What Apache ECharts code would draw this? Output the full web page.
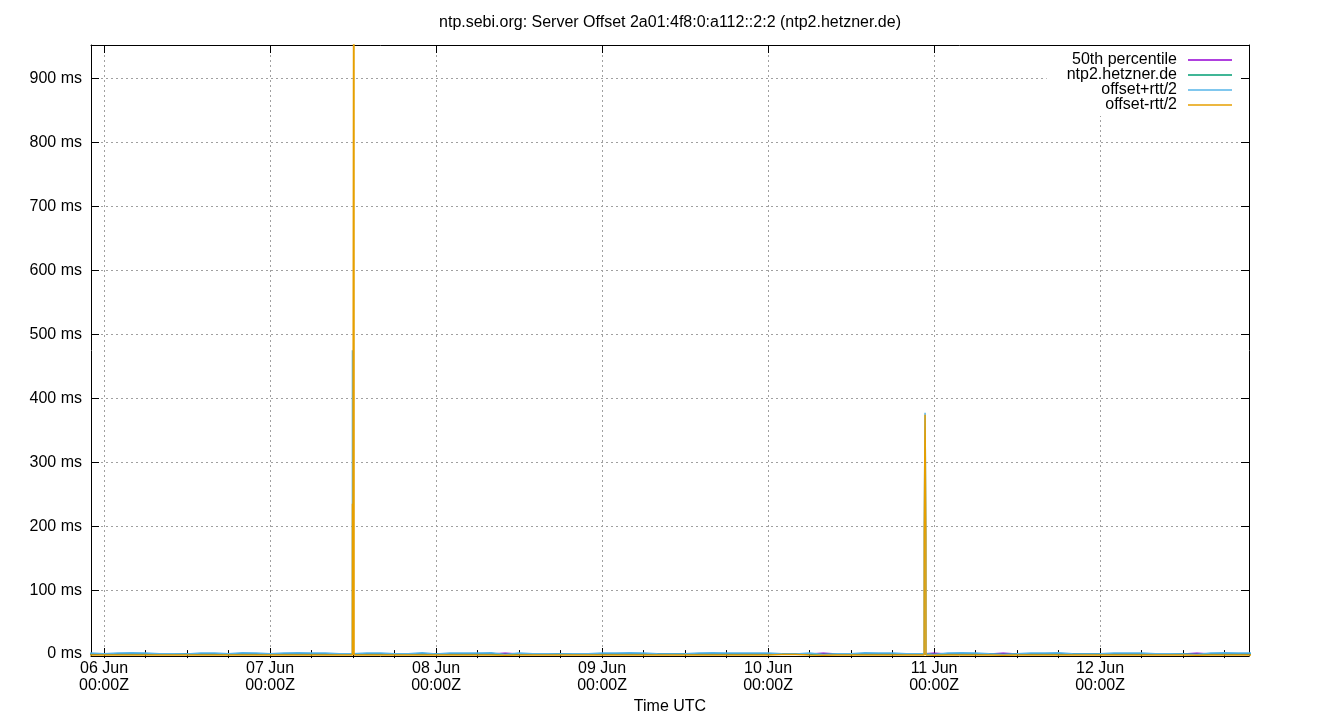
<!DOCTYPE html>
<html><head><meta charset="utf-8">
<script src="https://cdn.jsdelivr.net/npm/echarts@6/dist/echarts.min.js"></script>
<style>html,body{margin:0;padding:0;background:#fff}#c{width:1340px;height:720px}</style>
</head><body><div id="c"></div>
<script>
const titleText = 'ntp.sebi.org: Server Offset 2a01:4f8:0:a112::2:2 (ntp2.hetzner.de)';
const seriesNames = ['50th percentile', 'ntp2.hetzner.de', 'offset+rtt/2', 'offset-rtt/2'];
const seriesColors = ['#9400d3', '#009e73', '#56b4e9', '#e69f00'];
const xAxisName = 'Time UTC';

// regular samples, every 2 hours from baseStart
const baseStart = '2025-06-05T22:00:00Z';
const baseStepHours = 2;

const pct50 = [
  0.3,0.3,0.2,0.3,0.3,0.3,0.2,0.3,0.3,0.3,
  0.3,0.3,0.3,0.2,0.3,0.3,0.3,0.3,0.3,0.2,
  0.3,0.3,0.3,0.3,0.2,0.3,0.3,0.3,0.3,0.3,
  1.2,0.3,0.3,0.3,0.2,0.3,0.3,0.3,0.3,0.3,
  0.3,0.2,0.3,0.3,0.3,0.3,0.3,0.2,0.3,0.3,
  0.3,0.3,0.3,1.2,0.3,0.3,0.2,0.3,0.3,0.3,
  0.3,1.2,0.3,0.3,0.3,0.3,1.2,0.3,0.3,0.2,
  0.3,0.3,0.3,0.3,0.2,0.3,0.3,0.3,0.3,0.3,
  1.2,0.3,0.3,0.3,0.3
];
const offset = [
  0.2,0.0,0.2,0.3,0.2,0.0,0.1,0.0,0.2,0.2,
  0.0,0.3,0.2,0.0,0.2,0.2,0.3,0.2,0.0,0.1,
  0.2,0.2,0.0,0.0,0.3,0.0,0.2,0.2,0.3,0.2,
  -0.7,0.2,0.0,0.1,0.0,0.0,0.1,0.2,0.2,0.3,
  0.2,0.0,0.0,0.1,0.2,0.3,0.2,0.2,0.2,0.2,
  0.0,0.0,0.2,-0.7,0.0,0.1,0.3,0.2,0.2,0.0,
  0.0,-0.7,0.2,0.3,0.2,0.0,-0.7,0.0,0.2,0.2,
  0.3,0.0,0.0,0.1,0.2,0.2,0.3,0.0,0.1,0.0,
  -0.7,0.2,0.3,0.2,0.2
];
const offsetPlus = [
  1.8,0.4,1.7,1.9,1.8,0.5,0.4,0.3,1.8,1.7,
  0.4,1.9,1.8,0.5,1.8,1.9,1.7,1.8,0.4,0.4,
  1.8,1.7,0.5,0.4,1.9,0.3,1.8,1.7,1.8,1.9,
  -0.6,1.8,0.4,0.5,0.3,0.4,0.5,1.8,1.7,1.9,
  1.8,0.4,0.3,0.5,1.8,1.9,1.7,1.8,1.8,1.7,
  0.4,0.3,1.8,-0.6,0.4,0.5,1.9,1.8,1.7,0.4,
  0.4,-0.6,1.8,1.9,1.7,0.5,-0.6,0.4,1.8,1.7,
  1.9,0.4,0.3,0.5,1.8,1.7,1.8,0.4,0.5,0.3,
  -0.6,1.8,1.9,1.7,1.8
];
const offsetMinus = [
  -1.4,-1.4,-1.3,-1.4,-1.5,-1.4,-1.4,-1.3,-1.4,-1.4,
  -1.4,-1.3,-1.4,-1.4,-1.5,-1.4,-1.4,-1.3,-1.4,-1.4,
  -1.4,-1.4,-1.3,-1.4,-1.4,-1.5,-1.4,-1.4,-1.3,-1.4,
  -1.7,-1.4,-1.4,-1.3,-1.4,-1.4,-1.4,-1.5,-1.4,-1.4,
  -1.3,-1.4,-1.4,-1.4,-1.5,-1.4,-1.4,-1.3,-1.4,-1.4,
  -0.8,-0.8,-1.4,-1.7,-1.4,-1.3,-1.4,-1.4,-1.5,-1.4,
  -1.4,-1.7,-1.4,-1.3,-1.4,-1.4,-1.7,-1.4,-1.4,-1.5,
  -1.4,-1.4,-1.3,-1.4,-1.4,-1.4,-1.5,-1.4,-1.4,-1.3,
  -1.7,-1.4,-1.4,-1.4,-1.4
];

// extra samples around the two spikes (null = no sample for that series)
const spikeTimes = [
  '2025-06-07T11:54:00Z','2025-06-07T11:55:00Z','2025-06-07T11:57:00Z','2025-06-07T11:58:00Z',
  '2025-06-07T12:07:00Z','2025-06-07T12:08:00Z','2025-06-07T12:09:00Z',
  '2025-06-10T22:34:00Z','2025-06-10T22:35:00Z','2025-06-10T22:42:00Z','2025-06-10T22:49:00Z','2025-06-10T22:50:00Z'
];
const spikePlus  = [0.4, 475, 475, 0.4, null, null, null, 0.4, 188, 377, 188, 0.4];
const spikeMinus = [-1.4, 235, 235, -1.4, -1.4, 1500, -1.4, -1.4, 185, 374, 185, -1.4];

const xRange = ['2025-06-05T22:07:00Z', '2025-06-12T21:32:00Z'];
const yRange = [-3, 952];
const dayTicks = ['2025-06-06T00:00:00Z','2025-06-07T00:00:00Z','2025-06-08T00:00:00Z','2025-06-09T00:00:00Z','2025-06-10T00:00:00Z','2025-06-11T00:00:00Z','2025-06-12T00:00:00Z'];
const dayLabels = ['06 Jun\n00:00Z','07 Jun\n00:00Z','08 Jun\n00:00Z','09 Jun\n00:00Z','10 Jun\n00:00Z','11 Jun\n00:00Z','12 Jun\n00:00Z'];
const yTicks = [0,100,200,300,400,500,600,700,800,900];
const minorStepHours = 6;

const FONT = 'Liberation Sans, Arial, sans-serif';
const t0 = Date.parse(baseStart);
const stepMs = baseStepHours * 3600000;
const dayTickVals = dayTicks.map(t => Date.parse(t));
const xMin = Date.parse(xRange[0]), xMax = Date.parse(xRange[1]);
const minorTickVals = [];
for (let t = dayTickVals[0] - 86400000; t <= xMax; t += minorStepHours * 3600000) {
  if (t >= xMin) minorTickVals.push(t);
}

function build(base, spikes) {
  const pts = base.map((v, i) => [t0 + i * stepMs, v]);
  if (spikes) spikeTimes.forEach((t, k) => { if (spikes[k] != null) pts.push([Date.parse(t), spikes[k]]); });
  pts.sort((a, b) => a[0] - b[0]);
  return pts;
}
const seriesData = [build(pct50), build(offset), build(offsetPlus, spikePlus), build(offsetMinus, spikeMinus)];

const gridLine = { show: true, lineStyle: { color: '#a0a0a0', width: 1, type: [2, 3] } };
const blackLine = { show: true, onZero: false, lineStyle: { color: '#000', width: 1 } };

const chart = echarts.init(document.getElementById('c'), null, { renderer: 'canvas' });
chart.setOption({
  animation: false,
  backgroundColor: '#fff',
  title: { text: titleText, left: 'center', top: 15, padding: 0,
    textStyle: { fontSize: 16, fontWeight: 'normal', color: '#000', fontFamily: FONT } },
  legend: {
    orient: 'vertical', right: 99, top: 46, align: 'right', icon: 'rect',
    itemWidth: 44, itemHeight: 1.5, itemGap: -1, backgroundColor: '#fff',
    padding: [6, 9, 3, 20], data: seriesNames,
    textStyle: { fontSize: 16, lineHeight: 15, color: '#000', fontFamily: FONT, padding: [0, 6, 0, 0] }
  },
  grid: { left: 91, right: 91, top: 45, bottom: 64 },
  xAxis: [
    { type: 'value', position: 'bottom', min: xMin, max: xMax,
      axisLine: blackLine,
      axisTick: { show: true, inside: true, length: 8, customValues: dayTickVals, lineStyle: { color: '#000' } },
      axisLabel: { customValues: dayTickVals, hideOverlap: false, margin: 4, fontSize: 16, lineHeight: 17, color: '#000', fontFamily: FONT,
        formatter: v => { const k = dayTickVals.indexOf(v); return k >= 0 ? dayLabels[k] : ''; } },
      splitLine: gridLine,
      name: xAxisName, nameLocation: 'middle', nameGap: 42,
      nameTextStyle: { fontSize: 16, color: '#000', fontFamily: FONT } },
    { type: 'value', position: 'top', min: xMin, max: xMax,
      axisLine: blackLine,
      axisTick: { show: true, inside: true, length: 8, customValues: dayTickVals, lineStyle: { color: '#000' } },
      axisLabel: { show: false }, splitLine: { show: false } },
    { type: 'value', position: 'bottom', min: xMin, max: xMax,
      axisLine: { show: false },
      axisTick: { show: true, inside: true, length: 4, customValues: minorTickVals, lineStyle: { color: '#000' } },
      axisLabel: { show: false }, splitLine: { show: false } },
    { type: 'value', position: 'top', min: xMin, max: xMax,
      axisLine: { show: false },
      axisTick: { show: true, inside: true, length: 4, customValues: minorTickVals, lineStyle: { color: '#000' } },
      axisLabel: { show: false }, splitLine: { show: false } }
  ],
  yAxis: [
    { type: 'value', position: 'left', min: yRange[0], max: yRange[1],
      axisLine: blackLine,
      axisTick: { show: true, inside: true, length: 8, customValues: yTicks, lineStyle: { color: '#000' } },
      axisLabel: { customValues: yTicks, margin: 9, fontSize: 16, color: '#000', fontFamily: FONT, formatter: v => v + ' ms' },
      splitLine: gridLine },
    { type: 'value', position: 'right', min: yRange[0], max: yRange[1],
      axisLine: blackLine,
      axisTick: { show: true, inside: true, length: 8, customValues: yTicks, lineStyle: { color: '#000' } },
      axisLabel: { show: false }, splitLine: { show: false } }
  ],
  series: seriesNames.map((name, i) => ({
    name, type: 'line', xAxisIndex: 0, yAxisIndex: 0,
    data: seriesData[i], showSymbol: false, symbol: 'none',
    color: seriesColors[i],
    lineStyle: { color: seriesColors[i], width: 1.5 },
    clip: true
  }))
});
</script></body></html>
